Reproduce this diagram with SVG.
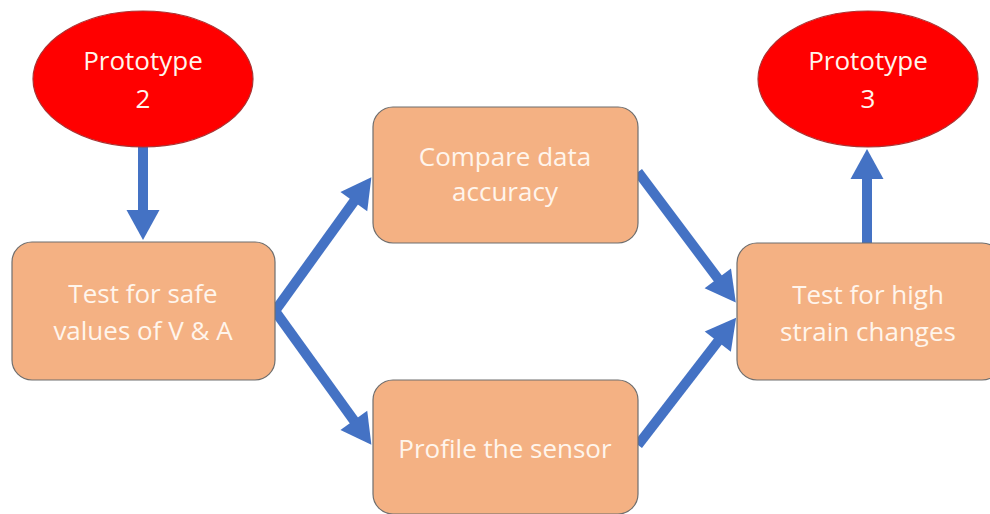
<svg xmlns="http://www.w3.org/2000/svg" width="990" height="514" viewBox="0 0 990 514">
<style>
.box{fill:#F4B183;stroke:#6E6E6E;stroke-width:1.2}
.oval{fill:#FF0000;stroke:#A33;stroke-width:1.2}
.t{font-family:"Open Sans","Liberation Sans",sans-serif;font-size:26px;fill:#FFF5EC;text-anchor:middle}
.c{stroke:#4472C4;stroke-width:10;fill:none;marker-end:url(#ah)}
</style>
<defs>
<marker id="ah" markerUnits="strokeWidth" markerWidth="3.2" markerHeight="3.4" refX="0.2" refY="1.65" orient="auto" overflow="visible">
<path d="M0,0 L3,1.65 L0,3.3 Z" fill="#4472C4"/>
</marker>
</defs>
<rect width="990" height="514" fill="#FFFFFF"/>
<g id="connectors">
<line class="c" x1="143" y1="146" x2="143" y2="212"/>
<line class="c" x1="275" y1="311" x2="355" y2="200"/>
<line class="c" x1="275" y1="311" x2="355" y2="422"/>
<line class="c" x1="638" y1="172" x2="719" y2="280"/>
<line class="c" x1="638" y1="445" x2="719" y2="340"/>
<line class="c" x1="867" y1="243" x2="867" y2="177"/>
</g>
<g id="proto2">
<ellipse class="oval" cx="143" cy="79" rx="110" ry="68"/>
<text class="t" x="143" y="70">Prototype</text>
<text class="t" x="143" y="108">2</text>
</g>
<g id="proto3">
<ellipse class="oval" cx="868" cy="79" rx="110" ry="68"/>
<text class="t" x="868" y="70">Prototype</text>
<text class="t" x="868" y="108">3</text>
</g>
<g id="safe">
<rect class="box" x="12" y="242" width="263" height="138" rx="20"/>
<text class="t" x="143" y="303">Test for safe</text>
<text class="t" x="143" y="340">values of V &amp; A</text>
</g>
<g id="compare">
<rect class="box" x="373" y="107" width="265" height="136" rx="20"/>
<text class="t" x="505" y="166">Compare data</text>
<text class="t" x="505" y="201">accuracy</text>
</g>
<g id="profile">
<rect class="box" x="373" y="380" width="265" height="134" rx="20"/>
<text class="t" x="505" y="458">Profile the sensor</text>
</g>
<g id="strain">
<rect class="box" x="737" y="243" width="265" height="137" rx="20"/>
<text class="t" x="868" y="304">Test for high</text>
<text class="t" x="868" y="341">strain changes</text>
</g>
</svg>
